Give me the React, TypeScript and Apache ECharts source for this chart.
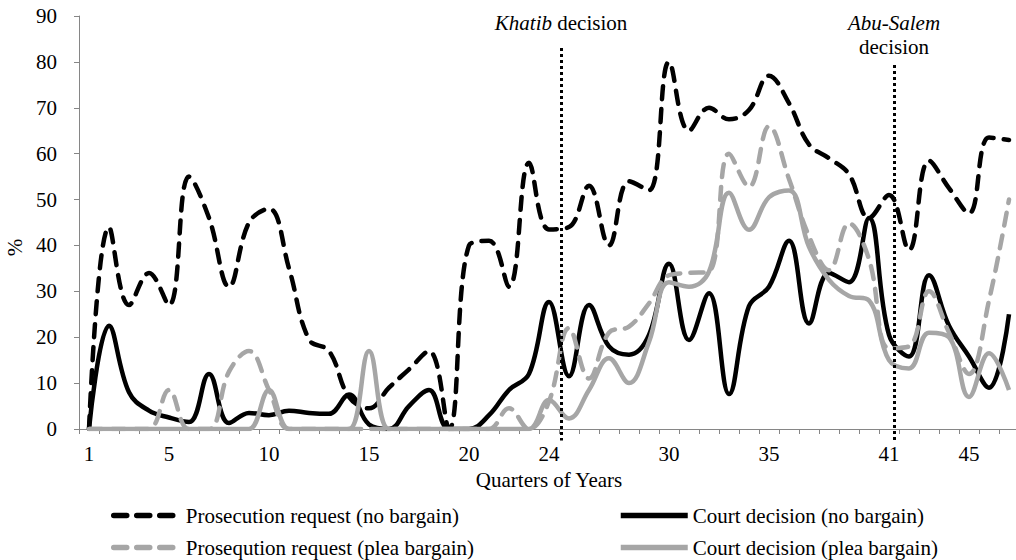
import React, { useEffect, useRef } from "react";
import * as echarts from "echarts";

const quarters = [
  "1", "2", "3", "4", "5", "6", "7", "8", "9", "10",
  "11", "12", "13", "14", "15", "16", "17", "18", "19", "20",
  "21", "22", "23", "24", "25", "26", "27", "28", "29", "30",
  "31", "32", "33", "34", "35", "36", "37", "38", "39", "40",
  "41", "42", "43", "44", "45", "46", "47",
];
const shownQuarterLabels = ["1", "5", "10", "15", "20", "24", "30", "35", "41", "45"];

const prosecutionNoBargain = [
  0, 44, 27, 34, 27, 55, 46, 31, 45, 48,
  35, 19.5, 17, 7, 4.5, 9, 13, 17, 0, 40,
  41, 31, 58, 43.5, 44, 53, 40, 54, 52, 80,
  65, 70, 67.5, 69.5, 77, 71, 62, 59, 55.5, 46,
  51, 39, 58.5, 52.5, 47, 63.5, 63,
];
const courtNoBargain = [
  0, 22.5, 8, 4, 2.5, 1.5, 12, 1.3, 3.5, 3,
  4, 3.5, 3.3, 7.5, 1, 0, 5, 8.5, 0, 0,
  3, 8.5, 12, 27.7, 11.5, 27, 18, 16.2, 20.5, 36,
  19.4, 29.6, 7.6, 26.8, 31, 41, 23, 34, 32, 46,
  20.5, 15.8, 33.5, 22.5, 15.8, 9, 25,
];
const prosecutionPleaBargain = [
  0, 0, 0, 0, 8.5, 0, 0, 12.5, 17, 8.5,
  0, 0, 0, 0, 0, 0, 0, 0, 0, 0,
  0, 4.5, 0, 6, 22, 11, 21, 22.3, 27.4, 33.5,
  34, 34.3, 60, 52.8, 66, 54.5, 42, 34.6, 44.8, 37,
  17.6, 18, 30, 21, 12, 28, 50,
];
const courtPleaBargain = [
  0, 0, 0, 0, 0, 0, 0, 0, 0, 8.5,
  0, 0, 0, 0, 17, 0, 0, 0, 0, 0,
  0, 0, 0, 6.3, 2.3, 8.5, 15.4, 10, 19, 32,
  31, 34.3, 51.5, 43.4, 50.5, 52, 39.7, 32.5, 29, 28,
  15, 13.2, 21, 20, 7, 16.5, 8.5,
];

const seriesNames = [
  "Prosecution request (no bargain)",
  "Court decision (no bargain)",
  "Proseqution request (plea bargain)",
  "Court decision (plea bargain)",
];

const yMin = 0;
const yMax = 90;
const yInterval = 10;

// decision markers (quarter position, top of marker in % units)
const khatibQuarter = 24.6;
const khatibTop = 83;
const abuSalemQuarter = 41.25;
const abuSalemTop = 79.3;
const markerBottom = -2.5;

const FONT = "'Liberation Serif', 'Times New Roman', serif";
const AXIS_GRAY = "#868686";
const BLACK = "#000000";
const GRAY = "#A6A6A6";
const FS = 21;

export default function App() {
  const ref = useRef<HTMLDivElement>(null);

  useEffect(() => {
    if (!ref.current) return;
    const chart = echarts.init(ref.current, undefined, { renderer: "svg" });

    const mkLine = (name: string, data: number[], color: string, dashed: boolean, width: number) => ({
      type: "line",
      name,
      data,
      xAxisIndex: 0,
      yAxisIndex: 0,
      smooth: 0.4,
      symbol: "none",
      showSymbol: false,
      lineStyle: {
        color,
        width,
        type: dashed ? [13, 10] : "solid",
        cap: dashed ? "round" : "butt",
        join: "round",
      },
      itemStyle: { color, opacity: 0 },
      emphasis: { disabled: true },
    });

    const textStyle = { fontFamily: FONT, fontSize: FS, color: BLACK, fontWeight: "normal" };

    const legendBase = {
      orient: "vertical",
      itemWidth: 67,
      itemHeight: 14,
      itemGap: 11,
      height: 80,
      lineStyle: { width: 5.5 },
      textStyle: { ...textStyle, lineHeight: 21 },
      selectedMode: false,
    };

    const option: any = {
      animation: false,
      grid: [
        { left: 79, top: 16, width: 940, height: 413, outerBoundsMode: "none", containLabel: false },
        { left: 79, top: 16, width: 940, height: 424.5, outerBoundsMode: "none", containLabel: false },
      ],
      xAxis: [
        {
          type: "category",
          gridIndex: 0,
          data: quarters,
          boundaryGap: true,
          axisLine: { show: true, lineStyle: { color: AXIS_GRAY, width: 1 } },
          axisTick: { show: true, interval: 0, length: 5, lineStyle: { color: AXIS_GRAY } },
          axisLabel: {
            interval: (_i: number, v: string) => shownQuarterLabels.includes(v),
            ...textStyle,
            margin: 14,
          },
          splitLine: { show: false },
          name: "Quarters of Years",
          nameLocation: "middle",
          nameGap: 40,
          nameTextStyle: textStyle,
        },
        { type: "value", gridIndex: 1, min: 0.5, max: 47.5, show: false },
      ],
      yAxis: [
        {
          type: "value",
          gridIndex: 0,
          min: yMin,
          max: yMax,
          interval: yInterval,
          axisLine: { show: true, lineStyle: { color: AXIS_GRAY, width: 1 } },
          axisTick: { show: true, length: 5, lineStyle: { color: AXIS_GRAY } },
          axisLabel: { ...textStyle, margin: 22 },
          splitLine: { show: false },
          name: "%",
          nameLocation: "middle",
          nameGap: 54,
          nameRotate: 90,
          nameTextStyle: { ...textStyle, padding: [0, 50, 0, 0] },
        },
        { type: "value", gridIndex: 1, min: markerBottom, max: yMax, show: false },
      ],
      legend: [
        { ...legendBase, data: [seriesNames[0], seriesNames[2]], left: 106, top: 500 },
        { ...legendBase, data: [seriesNames[1], seriesNames[3]], left: 613, top: 500 },
      ],
      series: [
        mkLine(seriesNames[0], prosecutionNoBargain, BLACK, true, 4.5),
        mkLine(seriesNames[1], courtNoBargain, BLACK, false, 4.5),
        mkLine(seriesNames[2], prosecutionPleaBargain, GRAY, true, 4.5),
        mkLine(seriesNames[3], courtPleaBargain, GRAY, false, 4.5),
        {
          type: "line",
          name: "markers",
          xAxisIndex: 1,
          yAxisIndex: 1,
          data: [],
          silent: true,
          markLine: {
            silent: true,
            symbol: "none",
            animation: false,
            lineStyle: { color: BLACK, width: 3, type: [3, 3] },
            label: {
              show: true,
              position: "start",
              ...textStyle,
              rich: {
                i: { fontStyle: "italic", fontWeight: "normal", fontFamily: FONT, fontSize: FS, color: BLACK },
              },
            },
            emphasis: { disabled: true },
            data: [
              [
                {
                  coord: [khatibQuarter, khatibTop],
                  label: { formatter: "{i|Khatib} decision", distance: 15 },
                },
                { coord: [khatibQuarter, markerBottom] },
              ],
              [
                {
                  coord: [abuSalemQuarter, abuSalemTop],
                  label: {
                    formatter: "{i|Abu-Salem}\ndecision",
                    lineHeight: 24,
                    distance: 6,
                  },
                },
                { coord: [abuSalemQuarter, markerBottom] },
              ],
            ],
          },
        },
      ],
    };

    chart.setOption(option);
    return () => chart.dispose();
  }, []);

  return (
    <div
      ref={ref}
      style={{ position: "absolute", left: 0, top: 0, width: 1016, height: 560, background: "#fff" }}
    />
  );
}
